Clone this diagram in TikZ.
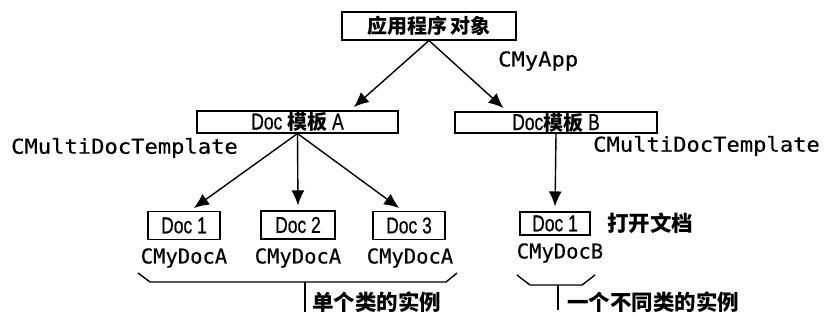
\documentclass[tikz,border=0pt]{standalone}
\usepackage{fontspec}
\setmainfont{Liberation Sans}
\newfontfamily\cjk{Noto Sans CJK SC}
\newfontfamily\narrowf[FakeStretch=0.76,FakeBold=0.6]{Liberation Sans}
\newfontfamily\monof[FakeBold=0.4]{DejaVu Sans Mono}
\newfontfamily\monow[FakeStretch=1.08,FakeBold=0.4]{DejaVu Sans Mono}
\usetikzlibrary{arrows.meta,calc}
\newcommand{\zh}[1]{{\cjk\bfseries\fontsize{20}{22}\selectfont #1}}
\begin{document}
\begin{tikzpicture}[x=1pt,y=-1pt,
  box/.style={draw,line width=1.1pt,rectangle,inner sep=0pt,font=\narrowf\fontsize{23}{24}\selectfont},
  lbl/.style={inner sep=0pt,font=\monof\fontsize{20.5}{22}\selectfont},
  lblw/.style={inner sep=0pt,font=\monow\fontsize{20.5}{22}\selectfont},
  zhl/.style={inner sep=0pt,font=\cjk\bfseries\fontsize{21.5}{22}\selectfont},
  arr/.style={line width=1.4pt,-{Latex[length=15pt,width=13pt]},shorten >=5pt},
  brace/.style={line width=1.4pt}]
\useasboundingbox (0,0) rectangle (824,320);
% boxes
\node[box,minimum width=174pt,minimum height=28pt] (top) at (429,26) {\zh{应用程序\,对象}};
\node[box,minimum width=201pt,minimum height=22pt] (docA) at (297.5,122) {Doc \zh{模板} A};
\node[box,minimum width=202pt,minimum height=21pt] (docB) at (556,122.5) {Doc\zh{模板} B};
\node[box,minimum width=72pt,minimum height=28pt] (d1) at (184,225.5) {Doc 1};
\node[box,minimum width=74pt,minimum height=28pt] (d2) at (298,225) {Doc 2};
\node[box,minimum width=72pt,minimum height=28pt] (d3) at (409,225.5) {Doc 3};
\node[box,minimum width=70pt,minimum height=23pt] (e1) at (555,223.5) {Doc 1};
% labels
\node[lblw,anchor=west] (app) at (498,61) {CMyApp};
\node[lblw,anchor=west] (tplA) at (11,148) {CMultiDocTemplate};
\node[lblw,anchor=west] (tplB) at (593,146) {CMultiDocTemplate};
\node[lbl] (la1) at (184,258) {CMyDocA};
\node[lbl] (la2) at (298,258) {CMyDocA};
\node[lbl] (la3) at (410,258) {CMyDocA};
\node[lbl] (lb1) at (560,253) {CMyDocB};
\node[zhl,anchor=west] (open) at (607,223) {打开文档};
\node[zhl,anchor=west] (same) at (312,302) {单个类的实例};
\node[zhl,anchor=west] (diff) at (567,302) {一个不同类的实例};
% arrows
\draw[arr] (top.south) -- ($(docA.north west)!0.76!(docA.north east)$);
\draw[arr] (top.south) -- ($(docB.north west)!0.26!(docB.north east)$);
\draw[arr] (docA.south) -- ($(d1.north west)!0.58!(d1.north east)$);
\draw[arr] (docA.south) -- (d2.north);
\draw[arr] (docA.south) -- ($(d3.north west)!0.42!(d3.north east)$);
\draw[arr] (docB.south) -- (e1.north);
% braces
\coordinate (sA) at (305,312);
\coordinate (sB) at (558,310);
\draw[brace] (138,273) -- (150,282) -- (446,282) -- (457,273);
\draw[brace] (305,282) -- (sA);
\draw[brace] (517,275) -- (530,285) -- (582,285) -- (595,275);
\draw[brace] (558,285) -- (sB);
\end{tikzpicture}
\end{document}
